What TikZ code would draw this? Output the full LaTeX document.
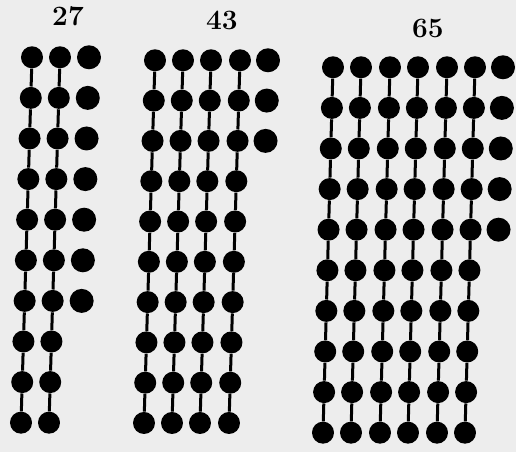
\documentclass[tikz,border=0pt]{standalone}
\usepackage{tikz}
\usetikzlibrary{positioning}
\definecolor{paper}{HTML}{EDEDED}

\begin{document}
\begin{tikzpicture}[x=0.5pt, y=-0.5pt,
  bead/.style={circle, fill=black, inner sep=0pt, minimum size=11pt},
  spare/.style={circle, fill=black, inner sep=0pt, minimum size=12pt},
  wire/.style={line width=1.5pt, black},
  count/.style={font=\bfseries\fontsize{14}{16}\selectfont}]

  \fill[paper] (0,0) rectangle (516,452);

  % twenty-seven
  \node[count] (n27) at (68,16) {27};
  \foreach \c/\xt in {1/32, 2/60} {
    \foreach \r in {1,...,10}
      \node[bead] (a\c-\r) at ({\xt-11*(\r-1)/9}, {57+40.6*(\r-1)}) {};
    \foreach \r [count=\s from 2] in {1,...,9}
      \draw[wire] (a\c-\r) -- (a\c-\s);
  }
  \foreach \r in {1,...,7}
    \node[spare] (a3-\r) at ({89-11*(\r-1)/9}, {57+40.6*(\r-1)}) {};

  % forty-three
  \node[count] (n43) at (222,20) {43};
  \foreach \c/\xt in {1/155, 2/183, 3/211, 4/240} {
    \foreach \r in {1,...,10}
      \node[bead] (b\c-\r) at ({\xt-11*(\r-1)/9}, {60+40.3*(\r-1)}) {};
    \foreach \r [count=\s from 2] in {1,...,9}
      \draw[wire] (b\c-\r) -- (b\c-\s);
  }
  \foreach \r in {1,...,3}
    \node[spare] (b5-\r) at ({268-11*(\r-1)/9}, {60+40.3*(\r-1)}) {};

  % sixty-five
  \node[count] (n65) at (428,28) {65};
  \foreach \c/\xt in {1/333, 2/361, 3/390, 4/418, 5/447, 6/475} {
    \foreach \r in {1,...,10}
      \node[bead] (c\c-\r) at ({\xt-10*(\r-1)/9}, {67+40.6*(\r-1)}) {};
    \foreach \r [count=\s from 2] in {1,...,9}
      \draw[wire] (c\c-\r) -- (c\c-\s);
  }
  \foreach \r in {1,...,5}
    \node[spare] (c7-\r) at ({503-10*(\r-1)/9}, {67+40.6*(\r-1)}) {};
\end{tikzpicture}
\end{document}
